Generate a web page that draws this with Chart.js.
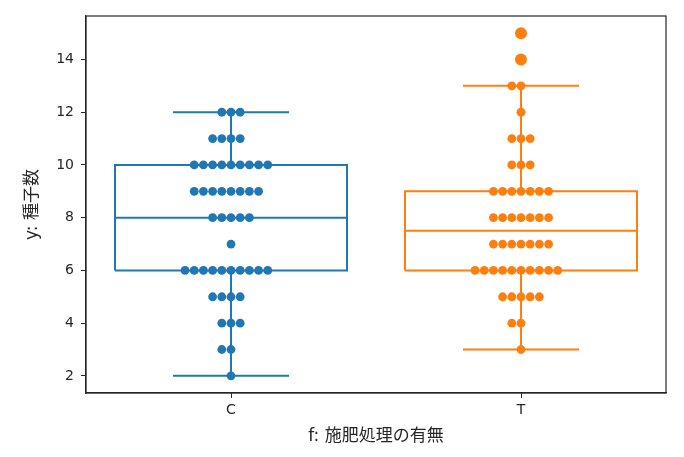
<!DOCTYPE html>
<html>
<head>
<meta charset="utf-8">
<script src="https://cdn.jsdelivr.net/npm/chart.js@4.4.1/dist/chart.umd.min.js"></script>
<style>
  html, body { margin: 0; padding: 0; background: #fff; }
  #wrap { width: 684px; height: 457px; }
</style>
</head>
<body>
<div id="wrap"><canvas id="myChart"></canvas></div>
<script>
// categories and raw observations (y: number of seeds)
const categories = ['C', 'T'];
const colors = ['#1f77b4', '#ff7f0e'];
const valuesC = [2, 3, 3, 4, 4, 4, 5, 5, 5, 5,
    6, 6, 6, 6, 6, 6, 6, 6, 6, 6, 7, 8, 8, 8, 8, 8,
    9, 9, 9, 9, 9, 9, 9, 9, 10, 10, 10, 10, 10, 10, 10, 10, 10,
    11, 11, 11, 11, 12, 12, 12];
const valuesT = [3, 4, 4, 5, 5, 5, 5, 5,
    6, 6, 6, 6, 6, 6, 6, 6, 6, 6, 7, 7, 7, 7, 7, 7, 7,
    8, 8, 8, 8, 8, 8, 8, 9, 9, 9, 9, 9, 9, 9,
    10, 10, 10, 11, 11, 11, 12, 13, 13, 14, 15];
const yTicks = [2, 4, 6, 8, 10, 12, 14];

const groups = [valuesC, valuesT];
const boxWidth = 0.8;
const swarmStep = 0.0317; // dot spacing in category units

function quantile(sorted, p) {
    const pos = (sorted.length - 1) * p;
    const lo = Math.floor(pos);
    const hi = Math.ceil(pos);
    return sorted[lo] + (sorted[hi] - sorted[lo]) * (pos - lo);
}

function boxStats(values) {
    const s = values.slice().sort((a, b) => a - b);
    const q1 = quantile(s, 0.25);
    const med = quantile(s, 0.5);
    const q3 = quantile(s, 0.75);
    const iqr = q3 - q1;
    const inside = s.filter(v => v >= q1 - 1.5 * iqr && v <= q3 + 1.5 * iqr);
    return {
        q1, med, q3,
        low: inside[0],
        high: inside[inside.length - 1],
        fliers: s.filter(v => v < q1 - 1.5 * iqr || v > q3 + 1.5 * iqr)
    };
}

// outline of box, median and whiskers, broken with null points
function boxLines(i, st) {
    const h = boxWidth / 2;
    const c = h / 2;
    const gap = {x: null, y: null};
    return [
        {x: i - h, y: st.q1}, {x: i + h, y: st.q1}, {x: i + h, y: st.q3}, {x: i - h, y: st.q3}, {x: i - h, y: st.q1}, gap,
        {x: i - h, y: st.med}, {x: i + h, y: st.med}, gap,
        {x: i, y: st.q1}, {x: i, y: st.low}, gap,
        {x: i, y: st.q3}, {x: i, y: st.high}, gap,
        {x: i - c, y: st.low}, {x: i + c, y: st.low}, gap,
        {x: i - c, y: st.high}, {x: i + c, y: st.high}
    ];
}

// beeswarm-like layout: equal values spread sideways around the category
function swarm(i, values) {
    const counts = {};
    values.forEach(v => { counts[v] = (counts[v] || 0) + 1; });
    const pts = [];
    Object.keys(counts).forEach(k => {
        const n = counts[k];
        const start = -Math.floor(n / 2);
        for (let j = 0; j < n; j++) {
            pts.push({x: i + (start + j) * swarmStep, y: Number(k)});
        }
    });
    return pts;
}

const datasets = [];
groups.forEach((vals, i) => {
    const st = boxStats(vals);
    datasets.push({
        data: swarm(i, vals),
        backgroundColor: colors[i],
        borderWidth: 0,
        pointRadius: 4.4,
        order: 0
    });
    datasets.push({
        data: boxLines(i, st),
        showLine: true,
        spanGaps: false,
        borderColor: colors[i],
        borderWidth: 2,
        pointRadius: 0,
        fill: false,
        order: 1
    });
    datasets.push({
        data: st.fliers.map(v => ({x: i, y: v})),
        backgroundColor: colors[i],
        borderWidth: 0,
        pointRadius: 6,
        order: 2
    });
});

const frame = {
    id: 'frame',
    afterDraw(chart) {
        const {ctx, chartArea: a} = chart;
        ctx.save();
        ctx.strokeStyle = '#262626';
        ctx.lineWidth = 1.2;
        ctx.strokeRect(a.left, a.top, a.right - a.left, a.bottom - a.top);
        ctx.restore();
    }
};

const tickFont = {family: "'DejaVu Sans', sans-serif", size: 14};
const titleFont = {family: "'DejaVu Sans', 'Noto Sans CJK JP', sans-serif", size: 17};

new Chart(document.getElementById('myChart'), {
    type: 'scatter',
    data: {datasets: datasets},
    options: {
        responsive: true,
        maintainAspectRatio: false,
        animation: false,
        layout: {padding: {top: 16, right: 18, left: 0, bottom: 0}},
        plugins: {legend: {display: false}, tooltip: {enabled: false}},
        scales: {
            x: {
                type: 'linear',
                min: -0.5,
                max: 1.5,
                afterBuildTicks: scale => { scale.ticks = categories.map((c, i) => ({value: i})); },
                afterFit: scale => { scale.height = 64; },
                ticks: {
                    callback: v => categories[v],
                    font: tickFont,
                    color: '#262626',
                    padding: 4
                },
                grid: {drawOnChartArea: false, tickLength: 5, color: '#262626'},
                border: {color: '#262626', width: 1.2},
                title: {
                    display: true,
                    text: 'f: 施肥処理の有無',
                    font: titleFont,
                    color: '#262626',
                    padding: {top: 0, bottom: 10}
                }
            },
            y: {
                min: 1.35,
                max: 15.65,
                afterBuildTicks: scale => { scale.ticks = yTicks.map(v => ({value: v})); },
                afterFit: scale => { scale.width = 86; },
                ticks: {
                    font: tickFont,
                    color: '#262626',
                    padding: 7
                },
                grid: {drawOnChartArea: false, tickLength: 5, color: '#262626'},
                border: {color: '#262626', width: 1.2},
                title: {
                    display: true,
                    text: 'y: 種子数',
                    font: titleFont,
                    color: '#262626',
                    padding: {top: 22, bottom: 0}
                }
            }
        }
    },
    plugins: [frame]
});
</script>
</body>
</html>
